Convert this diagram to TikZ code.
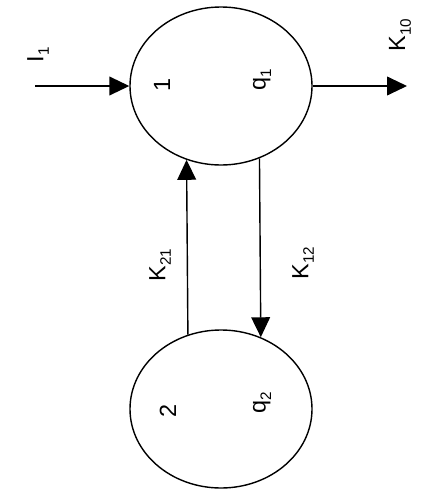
\documentclass[tikz,border=0pt]{standalone}
\usepackage{fontspec}
\setmainfont{Liberation Sans}
\usetikzlibrary{shapes.geometric,arrows.meta}
\newcommand{\lo}[1]{\raisebox{-0.45ex}{\fontsize{13}{15}\selectfont #1}}
\tikzset{
  comp/.style={draw,ellipse,line width=1.2pt,minimum width=5.46cm,minimum height=4.74cm,inner sep=0pt},
  lab/.style={rotate=90,font=\fontsize{20}{24}\selectfont,inner sep=0pt},
  flow/.style={line width=1.2pt,-{Triangle[length=17pt,width=16pt]}}
}
\begin{document}
\begin{tikzpicture}[x=0.03cm,y=-0.03cm]
\useasboundingbox (0,0) rectangle (421,497);
\node[comp] (c1) at (221,86) {};
\node[comp] (c2) at (221,409) {};
\coordinate (in) at (35,86);
\coordinate (out) at (407,86);
\draw[flow] (in) -- (c1.west);
\draw[flow] (c1.east) -- (out);
\draw[flow] (c2.114.9) -- (c1.245.1);
\draw[flow] (c1.298.6) -- (c2.61.4);
\node[lab] (i1) at (38,55) {I\lo{1}};
\node[lab] (k10) at (400,35) {K\lo{10}};
\node[lab] (n1) at (162,85) {1};
\node[lab] (q1) at (262,80) {q\lo{1}};
\node[lab] (k21) at (160,265) {K\lo{21}};
\node[lab] (k12) at (303,263) {K\lo{12}};
\node[lab] (n2) at (168,411) {2};
\node[lab] (q2) at (262,403) {q\lo{2}};
\end{tikzpicture}
\end{document}
